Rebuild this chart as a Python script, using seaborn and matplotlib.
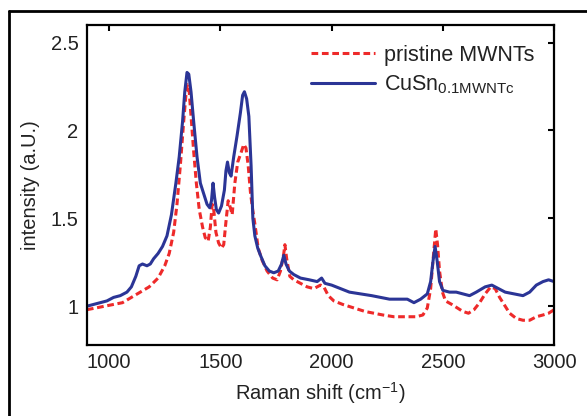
import matplotlib
matplotlib.use("Agg")
import matplotlib.pyplot as plt
import seaborn as sns
from matplotlib.lines import Line2D
from matplotlib.ticker import FuncFormatter

# pristine MWNTs (red dashed)
pristine_shift = [900, 940, 980, 1020, 1060, 1100, 1140, 1180, 1220, 1250, 1270, 1290, 1305, 1320,
                  1335, 1345, 1352, 1360, 1370, 1380, 1392, 1405, 1420, 1432, 1445, 1455, 1463, 1470,
                  1480, 1492, 1505, 1515, 1525, 1535, 1545, 1553, 1565, 1578, 1592, 1605, 1615, 1625,
                  1635, 1645, 1656, 1670, 1688, 1710, 1735, 1755, 1770, 1785, 1790, 1798, 1812, 1830,
                  1860, 1890, 1920, 1950, 1965, 1985, 2010, 2050, 2100, 2150, 2190, 2230, 2280, 2330,
                  2380, 2410, 2430, 2445, 2455, 2468, 2476, 2485, 2498, 2512, 2540, 2565, 2590, 2615,
                  2640, 2665, 2690, 2715, 2735, 2755, 2775, 2800, 2830, 2860, 2890, 2920, 2950, 2975, 3000]
pristine_int = [0.98, 0.99, 1.00, 1.01, 1.02, 1.05, 1.08, 1.11, 1.16, 1.23, 1.30, 1.42, 1.58, 1.80,
                2.05, 2.20, 2.26, 2.22, 2.05, 1.88, 1.70, 1.55, 1.45, 1.39, 1.37, 1.45, 1.58, 1.55,
                1.42, 1.36, 1.33, 1.35, 1.48, 1.60, 1.56, 1.52, 1.70, 1.82, 1.87, 1.92, 1.90, 1.80,
                1.65, 1.55, 1.46, 1.33, 1.26, 1.20, 1.16, 1.15, 1.20, 1.30, 1.35, 1.27, 1.17, 1.15,
                1.13, 1.11, 1.10, 1.12, 1.11, 1.06, 1.03, 1.01, 0.99, 0.97, 0.96, 0.95, 0.94, 0.94,
                0.94, 0.95, 0.99, 1.10, 1.25, 1.44, 1.35, 1.20, 1.08, 1.03, 1.01, 0.99, 0.97, 0.96,
                0.98, 1.02, 1.07, 1.11, 1.10, 1.05, 1.01, 0.96, 0.93, 0.92, 0.92, 0.94, 0.95, 0.96, 0.98]

# CuSn 0.1 MWNTc (blue solid)
cusn_shift = [900, 930, 960, 990, 1020, 1050, 1080, 1100, 1120, 1135, 1150, 1170, 1185, 1200, 1220,
              1240, 1260, 1280, 1300, 1315, 1330, 1340, 1350, 1358, 1368, 1380, 1395, 1410, 1425,
              1440, 1452, 1460, 1467, 1474, 1482, 1492, 1505, 1518, 1525, 1532, 1540, 1548, 1560,
              1575, 1590, 1600, 1608, 1618, 1628, 1638, 1646, 1655, 1668, 1680, 1700, 1720, 1740,
              1760, 1775, 1785, 1795, 1810, 1830, 1860, 1900, 1935, 1955, 1970, 2000, 2040, 2080,
              2130, 2180, 2220, 2260, 2300, 2340, 2370, 2400, 2430, 2445, 2455, 2465, 2474, 2485,
              2500, 2530, 2560, 2590, 2620, 2650, 2690, 2720, 2750, 2780, 2820, 2860, 2890, 2920,
              2950, 2975, 3000]
cusn_int = [1.00, 1.01, 1.02, 1.03, 1.05, 1.06, 1.08, 1.11, 1.17, 1.23, 1.24, 1.23, 1.24, 1.27, 1.30,
            1.34, 1.40, 1.52, 1.70, 1.85, 2.05, 2.22, 2.33, 2.32, 2.22, 2.05, 1.85, 1.70, 1.64,
            1.58, 1.56, 1.60, 1.70, 1.62, 1.55, 1.53, 1.57, 1.66, 1.77, 1.82, 1.76, 1.74, 1.85,
            1.97, 2.10, 2.20, 2.22, 2.18, 2.08, 1.80, 1.50, 1.40, 1.33, 1.29, 1.23, 1.20, 1.19,
            1.20, 1.24, 1.29, 1.24, 1.20, 1.18, 1.16, 1.15, 1.14, 1.16, 1.13, 1.12, 1.10, 1.08,
            1.07, 1.06, 1.05, 1.04, 1.04, 1.04, 1.02, 1.04, 1.07, 1.14, 1.25, 1.34, 1.26, 1.14,
            1.09, 1.08, 1.08, 1.07, 1.06, 1.08, 1.11, 1.12, 1.10, 1.08, 1.07, 1.06, 1.08, 1.12,
            1.14, 1.15, 1.14]

x_ticks = [1000, 1500, 2000, 2500, 3000]
y_ticks = [1, 1.5, 2, 2.5]

sns.set_style("white")
plt.rcParams["font.family"] = ["Liberation Sans", "DejaVu Sans"]
plt.rcParams["mathtext.fontset"] = "custom"
plt.rcParams["mathtext.rm"] = "Liberation Sans"

fig = plt.figure(figsize=(5.87, 4.16), dpi=100)
ax = fig.add_axes([0.148, 0.171, 0.796, 0.769])

sns.lineplot(x=pristine_shift, y=pristine_int, ax=ax, color="#ee2a2a", lw=2.2,
             linestyle=(0, (2.2, 1.2)), sort=False, estimator=None, label="pristine MWNTs")
sns.lineplot(x=cusn_shift, y=cusn_int, ax=ax, color="#2b3596", lw=2.2,
             sort=False, estimator=None, label=r"CuSn$_\mathregular{0.1MWNTc}$")

ax.set_xlim(900, 3000)
ax.set_ylim(0.78, 2.6)
ax.set_xticks(x_ticks)
ax.set_yticks(y_ticks)
ax.yaxis.set_major_formatter(FuncFormatter(lambda v, p: f"{v:g}"))
ax.tick_params(direction="in", top=True, right=True, length=4, width=1.5,
               labelsize=14.5, pad=6, colors="black")
ax.tick_params(labelcolor="#222222")
for s in ax.spines.values():
    s.set_linewidth(1.6)
    s.set_color("black")

ax.set_xlabel("Raman shift (cm$^{-1}$)", fontsize=14.5, labelpad=6, color="#222222")
ax.set_ylabel("intensity (a.U.)", fontsize=14.5, labelpad=8, color="#222222")

leg = ax.legend(loc="upper right", frameon=False, fontsize=15.5, handlelength=3.0,
                labelspacing=0.35, handletextpad=0.4, borderaxespad=0.3,
                bbox_to_anchor=(0.99, 0.985))
for t in leg.get_texts():
    t.set_color("#222222")

# outer frame of the cropped figure
fig.add_artist(Line2D([9 / 587, 1.0], [1 - 11 / 416, 1 - 11 / 416], transform=fig.transFigure,
                      color="black", lw=2))
fig.add_artist(Line2D([9 / 587, 9 / 587], [0.0, 1 - 11 / 416], transform=fig.transFigure,
                      color="black", lw=2))

fig.savefig("out.png", dpi=100)
